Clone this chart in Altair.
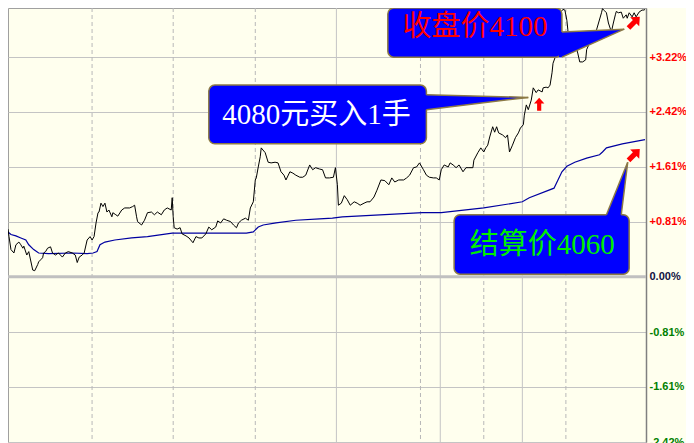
import altair as alt
import pandas as pd

# ---------------- data ----------------
# time index (horizontal position) and percent change of the price line
price_t = [2, 3, 5, 8, 10, 13, 15, 17, 18, 21,
           23, 27, 29, 32, 33, 35, 37, 38, 40, 42,
           45, 47, 50, 53, 57, 60, 63, 67, 70, 72,
           74, 77, 79, 82, 85, 87, 89, 91, 93, 94,
           96, 98, 100, 102, 104, 107, 108, 111, 113, 117,
           120, 125, 128, 130, 132, 133, 137, 140, 143, 147,
           150, 153, 157, 160, 163, 167, 168, 169, 170, 173,
           176, 178, 182, 185, 189, 192, 195, 198, 202, 205,
           208, 212, 214, 217, 220, 223, 227, 230, 233, 235,
           238, 242, 245, 247, 250, 252, 253, 255, 257, 258,
           262, 265, 268, 272, 275, 278, 281, 283, 287, 290,
           293, 297, 300, 303, 307, 310, 313, 317, 320, 323,
           327, 331, 333, 335, 336, 339, 342, 345, 348, 352,
           355, 358, 362, 365, 368, 372, 375, 379, 383, 387,
           390, 393, 397, 402, 405, 408, 412, 415, 418, 422,
           425, 428, 432, 435, 438, 440, 443, 447, 449, 452,
           455, 458, 462, 465, 468, 472, 473, 477, 480, 483,
           485, 487, 489, 492, 494, 496, 498, 502, 505, 507,
           509, 512, 515, 518, 520, 523, 524, 526, 528, 531,
           533, 536, 538, 542, 543, 546, 548, 550, 552, 553,
           555, 558, 561, 563, 565, 567, 568, 569, 572, 575,
           578, 580, 583, 586, 587, 590, 593, 596, 597, 599,
           602, 603, 605, 607, 609, 612, 614, 616, 617, 619,
           622, 624, 627, 628, 630, 633, 635, 637, 640, 643,
           645, 646]
price_v = [0.70, 0.59, 0.40, 0.35, 0.47, 0.51, 0.47, 0.42, 0.45, 0.32,
           0.37, 0.10, 0.09, 0.18, 0.22, 0.25, 0.28, 0.35, 0.37, 0.42,
           0.44, 0.35, 0.32, 0.35, 0.29, 0.35, 0.37, 0.35, 0.32, 0.21,
           0.29, 0.32, 0.35, 0.54, 0.59, 0.54, 0.59, 0.79, 0.94, 0.95,
           1.08, 1.03, 1.08, 0.95, 0.98, 0.88, 0.94, 0.91, 0.89, 0.98,
           1.01, 1.01, 1.03, 1.05, 0.88, 0.81, 0.76, 0.83, 0.94, 0.95,
           0.91, 0.95, 0.91, 0.98, 1.01, 0.98, 1.16, 0.88, 0.72, 0.70,
           0.72, 0.63, 0.60, 0.57, 0.50, 0.59, 0.57, 0.57, 0.63, 0.73,
           0.69, 0.73, 0.82, 0.79, 0.85, 0.83, 0.81, 0.76, 0.72, 0.79,
           0.83, 0.86, 0.83, 1.01, 1.10, 1.42, 1.45, 1.61, 1.76, 1.89,
           1.82, 1.68, 1.67, 1.68, 1.67, 1.54, 1.49, 1.42, 1.54, 1.52,
           1.49, 1.46, 1.46, 1.49, 1.64, 1.57, 1.60, 1.58, 1.57, 1.45,
           1.45, 1.46, 1.60, 1.35, 1.05, 1.08, 1.19, 1.13, 1.05, 1.10,
           1.08, 1.05, 1.08, 1.10, 1.10, 1.17, 1.27, 1.42, 1.41, 1.35,
           1.45, 1.39, 1.42, 1.42, 1.45, 1.49, 1.60, 1.61, 1.67, 1.57,
           1.49, 1.46, 1.45, 1.45, 1.42, 1.57, 1.64, 1.61, 1.67, 1.64,
           1.60, 1.64, 1.54, 1.60, 1.60, 1.60, 1.71, 1.82, 1.89, 1.83,
           1.89, 1.93, 2.05, 2.20, 2.12, 2.20, 2.11, 2.08, 2.04, 2.08,
           1.83, 1.93, 2.04, 2.11, 2.18, 2.23, 2.37, 2.52, 2.45, 2.59,
           2.77, 2.70, 2.74, 2.71, 2.77, 2.78, 2.77, 2.81, 2.99, 3.13,
           3.21, 3.54, 3.88, 3.92, 3.91, 3.76, 3.62, 3.40, 3.37, 3.43,
           3.28, 3.15, 3.15, 3.18, 3.33, 3.43, 3.47, 3.50, 3.62, 3.72,
           3.87, 3.93, 3.90, 3.87, 3.72, 3.59, 3.72, 3.84, 3.89, 3.87,
           3.88, 3.79, 3.84, 3.79, 3.87, 3.81, 3.87, 3.81, 3.88, 3.91,
           3.91, 3.92]

# average-price (settlement) line
avg_t = [2, 5, 10, 15, 20, 23, 28, 33, 43, 67,
         82, 88, 92, 95, 100, 110, 127, 143, 168, 193,
         243, 250, 255, 260, 273, 293, 317, 330, 340, 421,
         440, 483, 522, 529, 554, 558, 562, 567, 575, 587,
         600, 603, 607, 623, 646]
avg_v = [0.66, 0.62, 0.60, 0.57, 0.54, 0.47, 0.40, 0.35, 0.34, 0.35,
         0.34, 0.35, 0.37, 0.47, 0.51, 0.54, 0.57, 0.59, 0.64, 0.64,
         0.64, 0.66, 0.73, 0.76, 0.79, 0.83, 0.85, 0.86, 0.88, 0.94,
         0.94, 1.01, 1.10, 1.16, 1.30, 1.42, 1.54, 1.62, 1.68, 1.74,
         1.79, 1.83, 1.89, 1.95, 2.01]

# grid positions
tick_vals = [-2.42, -1.61, -0.81, 0.0, 0.81, 1.61, 2.42, 3.22]
dash_t = [87, 169, 252, 419, 483, 566]
solid_t = [334, 439, 522]
zero_v = [0.0]

# callout boxes
box_x1 = [386, 205, 453]
box_x2 = [562, 425, 630]
box_v1 = [3.22, 1.95, 0.04]
box_v2 = [3.94, 2.81, 0.91]

# horizontal pointers (close price / buy)
wedge_id = ["close", "close", "close", "buy", "buy", "buy"]
wedge_t = [559, 562, 625, 422, 425, 528]
wedge_top = [3.59, 3.59, 3.63, 2.67, 2.67, 2.63]
wedge_bot = [3.22, 3.22, 3.63, 2.45, 2.45, 2.63]

# vertical pointer (settlement)
settle_v = [0.87, 0.91, 1.68]
settle_left = [607, 607, 628.5]
settle_right = [622, 622, 628.5]

# pointer outlines
edge_t1 = [562, 562, 425, 425, 607, 622]
edge_v1 = [3.59, 3.22, 2.67, 2.45, 0.91, 0.91]
edge_t2 = [625, 625, 528, 528, 628.5, 628.5]
edge_v2 = [3.63, 3.63, 2.63, 2.63, 1.68, 1.68]

# callout texts
close_text, close_t, close_v = ["收盘价4100"], [474], [3.66]
buy_text, buy_t, buy_v = ["4080元买入1手"], [314], [2.37]
settle_text, settle_t, settle_tv = ["结算价4060"], [542], [0.47]

# red arrows
up_t, up_v = [539], [2.53]
diag_t, diag_v = [635, 635], [1.79, 3.73]

# ---------------- chart ----------------
xs = alt.Scale(domain=[2, 647], nice=False, zero=False, padding=0)
ys = alt.Scale(domain=[-2.42, 3.94], nice=False, zero=False, padding=0)

label_color = {
    "condition": [
        {"test": "datum.value > 0.001", "value": "#FF0000"},
        {"test": "datum.value < -0.001", "value": "#008000"},
    ],
    "value": "#101040",
}
y_axis = alt.Axis(
    orient="right", values=tick_vals, title=None, grid=True,
    gridColor="#C4C4C4", gridWidth=1, ticks=False, labelPadding=3,
    labelFont="Liberation Sans", labelFontSize=11, labelFontWeight="bold",
    labelExpr="datum.value > 0.001 ? '+' + format(datum.value, '.2f') + '%' : "
              "(datum.value < -0.001 ? '-' + format(-datum.value, '.2f') + '%' : '0.00%')",
    labelColor=label_color, labelOverlap=False,
    domainColor="#808080", domainWidth=1.5,
)

def X(f):
    return alt.X(f, type="quantitative", scale=xs, axis=None)

def Y(f):
    return alt.Y(f, type="quantitative", scale=ys, axis=y_axis)

price_df = pd.DataFrame({"t": price_t, "v": price_v})
avg_df = pd.DataFrame({"t": avg_t, "v": avg_v})

vdash = alt.Chart(pd.DataFrame({"t": dash_t})).mark_rule(
    color="#B8B8B8", strokeDash=[4, 3], strokeWidth=1).encode(x=X("t"))
vsolid = alt.Chart(pd.DataFrame({"t": solid_t})).mark_rule(
    color="#C4C4C4", strokeWidth=1).encode(x=X("t"))
zero = alt.Chart(pd.DataFrame({"v": zero_v})).mark_rule(
    color="#C0C0C0", strokeWidth=3).encode(y=Y("v"))

avg_line = alt.Chart(avg_df).mark_line(color="#0000A0", strokeWidth=1.2, clip=True).encode(
    x=X("t"), y=Y("v"))
price_line = alt.Chart(price_df).mark_line(color="#000000", strokeWidth=1, clip=True).encode(
    x=X("t"), y=Y("v"))

boxes = alt.Chart(pd.DataFrame({"x1": box_x1, "x2": box_x2, "v1": box_v1, "v2": box_v2})).mark_rect(
    fill="#0000FF", stroke="#8C7A45", strokeWidth=1.5, cornerRadius=6).encode(
    x=X("x1"), x2="x2", y=Y("v1"), y2="v2")

wedges = alt.Chart(pd.DataFrame({"id": wedge_id, "t": wedge_t, "top": wedge_top, "bot": wedge_bot})).mark_area(
    color="#0000FF", opacity=1).encode(x=X("t"), y=Y("top"), y2="bot", detail="id:N")

settle_wedge = alt.Chart(pd.DataFrame({"v": settle_v, "l": settle_left, "r": settle_right})).mark_area(
    color="#0000FF", opacity=1, orient="horizontal").encode(y=Y("v"), x=X("l"), x2="r")

edges = alt.Chart(pd.DataFrame({"t1": edge_t1, "v1": edge_v1, "t2": edge_t2, "v2": edge_v2})).mark_rule(
    color="#8C7A45", strokeWidth=1.5).encode(x=X("t1"), x2="t2", y=Y("v1"), y2="v2")

text_font = "Liberation Serif, Noto Sans CJK SC"

def label_layer(txt, t, v, color):
    return alt.Chart(pd.DataFrame({"label": txt, "t": t, "v": v})).mark_text(
        font=text_font, fontSize=29, color=color, align="center", baseline="middle").encode(
        x=X("t"), y=Y("v"), text="label:N")

close_lbl = label_layer(close_text, close_t, close_v, "#FF0000")
buy_lbl = label_layer(buy_text, buy_t, buy_v, "#FFFFFF")
settle_lbl = label_layer(settle_text, settle_t, settle_tv, "#00EE00")

arrow_path = "M0,-1L0.8,-0.1L0.32,-0.1L0.32,1L-0.32,1L-0.32,-0.1L-0.8,-0.1Z"
up_arrow = alt.Chart(pd.DataFrame({"t": up_t, "v": up_v})).mark_point(
    shape=arrow_path, filled=True, color="#FF0000", opacity=1, size=169, strokeWidth=0).encode(
    x=X("t"), y=Y("v"))
diag_arrows = alt.Chart(pd.DataFrame({"t": diag_t, "v": diag_v})).mark_point(
    shape=arrow_path, filled=True, color="#FF0000", opacity=1, size=256, angle=45, strokeWidth=0).encode(
    x=X("t"), y=Y("v"))

chart = alt.layer(
    vdash, vsolid, zero, avg_line, price_line,
    boxes, wedges, settle_wedge, edges,
    close_lbl, buy_lbl, settle_lbl, up_arrow, diag_arrows,
).properties(
    width=638, height=434, background="#FFFFEE",
    padding={"left": 0, "top": 0, "right": 40, "bottom": 1},
    autosize=alt.AutoSizeParams(type="none"),
).configure_view(stroke="#A0A0A0", strokeWidth=1, fill="#FFFFEE")

chart.save("out.html", embed_options={"renderer": "svg", "actions": False})
